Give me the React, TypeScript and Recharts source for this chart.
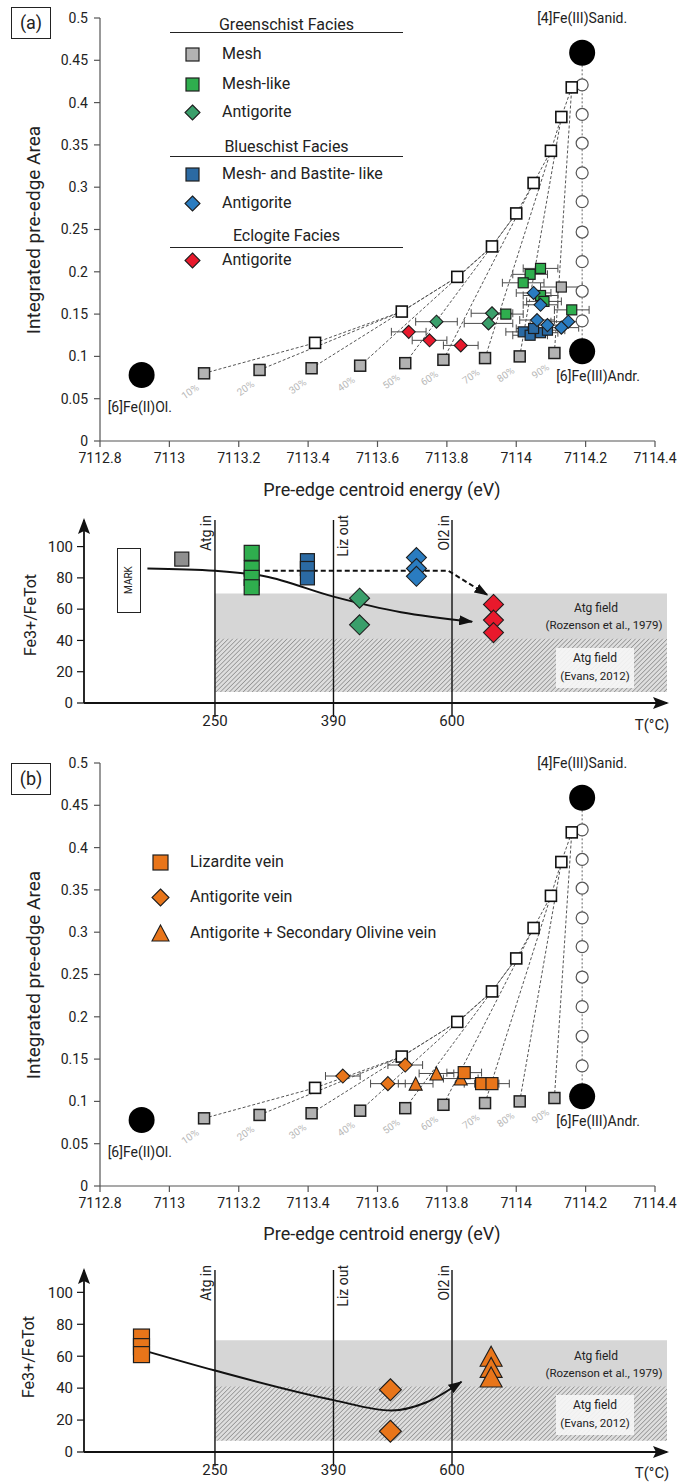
import React from "react";
import {
  ScatterChart,
  Scatter,
  XAxis,
  YAxis,
  ErrorBar,
  ReferenceLine,
  ReferenceArea,
} from "recharts";

const FONT = "Roboto, 'Liberation Sans', sans-serif";

// ---------- pre-edge panels (a) and (b)
const ENERGY_TICKS = [7112.8, 7113, 7113.2, 7113.4, 7113.6, 7113.8, 7114, 7114.2, 7114.4];
const AREA_TICKS = [0, 0.05, 0.1, 0.15, 0.2, 0.25, 0.3, 0.35, 0.4, 0.45, 0.5];

const MIX_PCT = ["10%", "20%", "30%", "40%", "50%", "60%", "70%", "80%", "90%"];
const OL_ANDR_E = [7113.1, 7113.26, 7113.41, 7113.55, 7113.68, 7113.79, 7113.91, 7114.01, 7114.11];
const OL_ANDR_A = [0.08, 0.084, 0.086, 0.089, 0.092, 0.096, 0.098, 0.1, 0.104];
const OL_SANID_E = [7113.42, 7113.67, 7113.83, 7113.93, 7114.0, 7114.05, 7114.1, 7114.13, 7114.16];
const OL_SANID_A = [0.116, 0.153, 0.194, 0.23, 0.269, 0.305, 0.343, 0.383, 0.418];
const ANDR_SANID_E = [7114.19, 7114.19, 7114.19, 7114.19, 7114.19, 7114.19, 7114.19, 7114.19, 7114.19];
const ANDR_SANID_A = [0.142, 0.177, 0.212, 0.247, 0.283, 0.317, 0.352, 0.386, 0.421];

const END_NAMES = ["[6]Fe(II)Ol.", "[6]Fe(III)Andr.", "[4]Fe(III)Sanid."];
const END_E = [7112.92, 7114.19, 7114.19];
const END_A = [0.078, 0.106, 0.459];

// (a) samples
const GS_MESH_E = [7114.13];
const GS_MESH_A = [0.182];
const GS_MESH_ERR = [0.06];
const GS_MESHLIKE_E = [7114.07, 7114.04, 7114.02, 7114.07, 7114.08, 7113.97, 7114.16];
const GS_MESHLIKE_A = [0.204, 0.197, 0.187, 0.172, 0.165, 0.15, 0.155];
const GS_MESHLIKE_ERR = [0.05, 0.05, 0.06, 0.05, 0.05, 0.05, 0.05];
const GS_ATG_E = [7113.77, 7113.93, 7113.92];
const GS_ATG_A = [0.141, 0.151, 0.139];
const GS_ATG_ERR = [0.06, 0.06, 0.07];
const BS_MESH_E = [7114.02, 7114.04, 7114.07, 7114.09, 7114.05];
const BS_MESH_A = [0.129, 0.125, 0.128, 0.131, 0.133];
const BS_MESH_ERR = [0.05, 0.05, 0.05, 0.05, 0.05];
const BS_ATG_E = [7114.05, 7114.07, 7114.06, 7114.15, 7114.13, 7114.09];
const BS_ATG_A = [0.175, 0.161, 0.143, 0.141, 0.134, 0.137];
const BS_ATG_ERR = [0.05, 0.05, 0.05, 0.05, 0.05, 0.05];
const EC_ATG_E = [7113.69, 7113.75, 7113.84];
const EC_ATG_A = [0.129, 0.119, 0.113];
const EC_ATG_ERR = [0.05, 0.05, 0.05];

// (b) samples
const LIZ_VEIN_E = [7113.85, 7113.9, 7113.93];
const LIZ_VEIN_A = [0.134, 0.121, 0.121];
const LIZ_VEIN_ERR = [0.05, 0.05, 0.05];
const ATG_VEIN_E = [7113.5, 7113.68, 7113.63];
const ATG_VEIN_A = [0.13, 0.143, 0.121];
const ATG_VEIN_ERR = [0.05, 0.05, 0.05];
const ATG_OL_VEIN_E = [7113.77, 7113.71, 7113.84];
const ATG_OL_VEIN_A = [0.133, 0.121, 0.127];
const ATG_OL_VEIN_ERR = [0.05, 0.05, 0.05];

// ---------- Fe3+/FeTot strips
const T_TICKS = [1, 2, 3];
const T_LABELS = ["250", "390", "600"];
const ISOGRADS = ["Atg in", "Liz out", "Ol2 in"];
const FE_TICKS = [0, 20, 40, 60, 80, 100];
const STAGE_MIN = -0.105;
const STAGE_MAX = 4.814;

const A_MESH_STAGE = 0.72;
const A_MESH_FE = [92];
const A_MESHLIKE_STAGE = 1.31;
const A_MESHLIKE_FE = [96, 86, 80, 74];
const A_BS_MESH_STAGE = 1.78;
const A_BS_MESH_FE = [91, 86, 80];
const A_GS_ATG_STAGE = 2.22;
const A_GS_ATG_FE = [67, 50];
const A_BS_ATG_STAGE = 2.7;
const A_BS_ATG_FE = [93, 86, 81];
const A_EC_ATG_STAGE = 3.35;
const A_EC_ATG_FE = [63, 53, 45];
const A_TREND_STAGE = [0.43, 1, 1.42, 2, 2.57, 3.17];
const A_TREND_FE = [86, 84.5, 81, 68, 58, 52];
const A_DASH_STAGE = [1.42, 2.97, 3.3];
const A_DASH_FE = [84.5, 84.5, 69];

const B_LIZ_STAGE = 0.38;
const B_LIZ_FE = [72, 66, 61];
const B_ATG_STAGE = 2.48;
const B_ATG_FE = [39, 13];
const B_ATG_OL_STAGE = 3.33;
const B_ATG_OL_FE = [60, 53, 47];
const B_TREND_STAGE = [0.38, 1, 2, 2.49, 2.78, 3.08];
const B_TREND_FE = [64, 51, 32.5, 26, 31, 44];

// ---------- colours
const GREY = "#b2b2b2";
const GREEN_SQ = "#2fae4e";
const GREEN_DIA = "#3a9f6b";
const BLUE_SQ = "#2b6aa3";
const BLUE_DIA = "#2a7cc0";
const RED = "#e8192c";
const ORANGE = "#e8751a";
const INK = "#1e1e1e";

const zip = (xs: number[], ys: number[]) => xs.map((x, i) => ({ x, y: ys[i] }));
const withErr = (xs: number[], ys: number[], errs: number[]) =>
  xs.map((x, i) => ({ x, y: ys[i], err: errs[i] }));
const column = (stage: number, ys: number[]) => ys.map((y) => ({ x: stage, y }));

const none = () => <g />;

function square(s: number, fill: string, stroke = INK, sw = 1.2) {
  return (p: any) => (
    <rect x={p.cx - s / 2} y={p.cy - s / 2} width={s} height={s} fill={fill} stroke={stroke} strokeWidth={sw} />
  );
}
function diamond(r: number, fill: string, stroke = INK, sw = 1.1) {
  return (p: any) => (
    <path
      d={`M${p.cx},${p.cy - r}L${p.cx + r},${p.cy}L${p.cx},${p.cy + r}L${p.cx - r},${p.cy}Z`}
      fill={fill}
      stroke={stroke}
      strokeWidth={sw}
    />
  );
}
function triangle(w: number, h: number, fill: string, stroke = INK, sw = 1.1) {
  return (p: any) => (
    <path
      d={`M${p.cx},${p.cy - h / 2}L${p.cx + w / 2},${p.cy + h / 2}L${p.cx - w / 2},${p.cy + h / 2}Z`}
      fill={fill}
      stroke={stroke}
      strokeWidth={sw}
    />
  );
}
function ring(r: number) {
  return (p: any) => <circle cx={p.cx} cy={p.cy} r={r} fill="#fff" stroke="#555" strokeWidth={1.2} />;
}

const mixSquare = (p: any) => (
  <g>
    <rect x={p.cx - 5.5} y={p.cy - 5.5} width={11} height={11} fill={GREY} stroke={INK} strokeWidth={1.5} />
    <text
      x={p.cx - 12}
      y={p.cy + 21}
      fontSize={10}
      fill="#b8b8b8"
      textAnchor="middle"
      fontFamily={FONT}
      transform={`rotate(-35 ${p.cx - 12} ${p.cy + 21})`}
    >
      {p.payload.label}
    </text>
  </g>
);

const END_LABEL_POS: Record<string, { dx: number; dy: number; anchor: string }> = {
  "[6]Fe(II)Ol.": { dx: -34, dy: 37, anchor: "start" },
  "[6]Fe(III)Andr.": { dx: -26, dy: 30, anchor: "start" },
  "[4]Fe(III)Sanid.": { dx: 0, dy: -30, anchor: "middle" },
};

const endMember = (p: any) => {
  const pos = END_LABEL_POS[p.payload.label];
  return (
    <g>
      <circle cx={p.cx} cy={p.cy} r={13} fill="#000" />
      <text x={p.cx + pos.dx} y={p.cy + pos.dy} fontSize={14} fill="#222" textAnchor={pos.anchor} fontFamily={FONT}>
        {p.payload.label}
      </text>
    </g>
  );
};

const ISO_DX: Record<string, number> = { "Atg in": -4, "Liz out": 15, "Ol2 in": -3 };
const isoLabel = (p: any) => {
  const x = p.cx + ISO_DX[p.payload.label];
  const y = p.cy - 5;
  return (
    <text x={x} y={y} fontSize={14} fill="#222" textAnchor="end" fontFamily={FONT} transform={`rotate(-90 ${x} ${y})`}>
      {p.payload.label}
    </text>
  );
};

const tickStyle = { fontSize: 14, fill: "#222", fontFamily: FONT };
const axisStyle = { stroke: "#555", strokeWidth: 1.2 };

function errScatter(key: string, data: any[], shape: any) {
  return (
    <Scatter key={key} data={data} shape={shape} isAnimationActive={false}>
      <ErrorBar dataKey="err" direction="x" width={4} stroke="#4a4a4a" strokeWidth={1} />
    </Scatter>
  );
}

function EnergyChart({ samples }: { samples: React.ReactElement[] }) {
  const mixLines = OL_ANDR_E.map((e, i) => (
    <Scatter
      key={`mix${i}`}
      data={[
        { x: e, y: OL_ANDR_A[i] },
        { x: OL_SANID_E[i], y: OL_SANID_A[i] },
      ]}
      line={{ stroke: "#555", strokeWidth: 1, strokeDasharray: "3 2" }}
      shape={none}
      isAnimationActive={false}
    />
  ));
  const columnLine = [
    { x: END_E[1], y: END_A[1] },
    ...zip(ANDR_SANID_E, ANDR_SANID_A),
    { x: END_E[2], y: END_A[2] },
  ];
  const greys = OL_ANDR_E.map((x, i) => ({ x, y: OL_ANDR_A[i], label: MIX_PCT[i] }));
  const ends = END_E.map((x, i) => ({ x, y: END_A[i], label: END_NAMES[i] }));
  return (
    <ScatterChart width={693} height={500} margin={{ top: 18, right: 38, left: 40, bottom: 29 }}>
      <XAxis
        type="number"
        dataKey="x"
        domain={[7112.8, 7114.4]}
        ticks={ENERGY_TICKS}
        interval={0}
        tickFormatter={(v) => String(v)}
        height={30}
        tickSize={6}
        tickMargin={6}
        tick={tickStyle}
        axisLine={axisStyle}
        tickLine={axisStyle}
      />
      <YAxis
        type="number"
        dataKey="y"
        domain={[0, 0.5]}
        ticks={AREA_TICKS}
        interval={0}
        tickFormatter={(v) => String(v)}
        width={60}
        tickSize={6}
        tickMargin={6}
        tick={tickStyle}
        axisLine={axisStyle}
        tickLine={axisStyle}
      />
      {mixLines}
      <Scatter
        data={zip(OL_SANID_E, OL_SANID_A)}
        line={{ stroke: "#555", strokeWidth: 1, strokeDasharray: "3 2" }}
        shape={none}
        isAnimationActive={false}
      />
      <Scatter
        data={columnLine}
        line={{ stroke: "#666", strokeWidth: 1, strokeDasharray: "2 2" }}
        shape={none}
        isAnimationActive={false}
      />
      <Scatter data={zip(ANDR_SANID_E, ANDR_SANID_A)} shape={ring(6)} isAnimationActive={false} />
      <Scatter data={zip(OL_SANID_E, OL_SANID_A)} shape={square(11, "#fff", "#111", 1.6)} isAnimationActive={false} />
      <Scatter data={greys} shape={mixSquare} isAnimationActive={false} />
      <Scatter data={ends} shape={endMember} isAnimationActive={false} />
      {samples}
    </ScatterChart>
  );
}

function FeChart({
  id,
  height,
  bottom,
  yMax,
  series,
}: {
  id: string;
  height: number;
  bottom: number;
  yMax: number;
  series: React.ReactElement[];
}) {
  const labels = T_TICKS.map((t, i) => ({ x: t, y: yMax, label: ISOGRADS[i] }));
  return (
    <ScatterChart width={693} height={height} margin={{ top: 20, right: 26, left: 34, bottom }}>
      <defs>
        <pattern id={`hatch-${id}`} width="3.2" height="3.2" patternUnits="userSpaceOnUse" patternTransform="rotate(45)">
          <rect width="3.2" height="3.2" fill="#dedede" />
          <line x1="0" y1="0" x2="0" y2="3.2" stroke="#7a7a7a" strokeWidth="1.2" />
        </pattern>
        <marker id={`trend-${id}`} markerWidth="14" markerHeight="10" refX="13" refY="5" orient="auto" markerUnits="userSpaceOnUse">
          <path d="M0,0L14,5L0,10Z" fill="#111" />
        </marker>
        <marker id={`axr-${id}`} markerWidth="16" markerHeight="12" refX="14" refY="6" orient="auto" markerUnits="userSpaceOnUse">
          <path d="M0,0L16,6L0,12L3,6Z" fill="#111" />
        </marker>
        <marker id={`axu-${id}`} markerWidth="16" markerHeight="12" refX="14" refY="6" orient="auto-start-reverse" markerUnits="userSpaceOnUse">
          <path d="M0,0L16,6L0,12L3,6Z" fill="#111" />
        </marker>
      </defs>
      <XAxis
        type="number"
        dataKey="x"
        domain={[STAGE_MIN, STAGE_MAX]}
        ticks={T_TICKS}
        interval={0}
        tickFormatter={(v) => T_LABELS[T_TICKS.indexOf(v)] ?? ""}
        height={25}
        tickLine={false}
        tickSize={8}
        tickMargin={4}
        tick={{ ...tickStyle, fontSize: 15 }}
        axisLine={{ stroke: "#111", strokeWidth: 1.8, markerEnd: `url(#axr-${id})` }}
      />
      <YAxis
        type="number"
        dataKey="y"
        domain={[0, yMax]}
        ticks={FE_TICKS}
        interval={0}
        width={50}
        tickSize={7}
        tickMargin={4}
        tick={{ ...tickStyle, fontSize: 15 }}
        tickLine={{ stroke: "#111", strokeWidth: 1.2 }}
        axisLine={{ stroke: "#111", strokeWidth: 1.8, markerStart: `url(#axu-${id})` }}
      />
      <ReferenceArea x1={1} x2={STAGE_MAX} y1={40} y2={70} fill="#d6d6d6" fillOpacity={1} stroke="none" ifOverflow="visible" />
      <ReferenceArea x1={1} x2={STAGE_MAX} y1={7} y2={41} fill={`url(#hatch-${id})`} fillOpacity={1} stroke="none" ifOverflow="visible" />
      {T_TICKS.map((t) => (
        <ReferenceLine
          key={`iso${t}`}
          segment={[
            { x: t, y: -9 },
            { x: t, y: yMax },
          ]}
          stroke="#111"
          strokeWidth={1.4}
          ifOverflow="visible"
        />
      ))}
      <Scatter data={labels} shape={isoLabel} isAnimationActive={false} />
      {series}
    </ScatterChart>
  );
}

const trendLine = (id: string, dashed: boolean) => ({
  stroke: "#111",
  strokeWidth: 2,
  strokeDasharray: dashed ? "5 3" : undefined,
  markerEnd: `url(#trend-${id})`,
});

const samplesA = [
  errScatter("gsm", withErr(GS_MESH_E, GS_MESH_A, GS_MESH_ERR), square(10, GREY)),
  errScatter("gsl", withErr(GS_MESHLIKE_E, GS_MESHLIKE_A, GS_MESHLIKE_ERR), square(10, GREEN_SQ)),
  errScatter("gsa", withErr(GS_ATG_E, GS_ATG_A, GS_ATG_ERR), diamond(6.5, GREEN_DIA)),
  errScatter("bsm", withErr(BS_MESH_E, BS_MESH_A, BS_MESH_ERR), square(10, BLUE_SQ)),
  errScatter("bsa", withErr(BS_ATG_E, BS_ATG_A, BS_ATG_ERR), diamond(6.5, BLUE_DIA)),
  errScatter("eca", withErr(EC_ATG_E, EC_ATG_A, EC_ATG_ERR), diamond(6.5, RED)),
];

const samplesB = [
  errScatter("atv", withErr(ATG_VEIN_E, ATG_VEIN_A, ATG_VEIN_ERR), diamond(7, ORANGE)),
  errScatter("aov", withErr(ATG_OL_VEIN_E, ATG_OL_VEIN_A, ATG_OL_VEIN_ERR), triangle(13, 13, ORANGE)),
  errScatter("lzv", withErr(LIZ_VEIN_E, LIZ_VEIN_A, LIZ_VEIN_ERR), square(12, ORANGE)),
];

const stripA = [
  <Scatter
    key="trendA"
    data={zip(A_TREND_STAGE, A_TREND_FE)}
    line={trendLine("a", false)}
    lineJointType="monotoneX"
    shape={none}
    isAnimationActive={false}
  />,
  <Scatter
    key="dashA"
    data={zip(A_DASH_STAGE, A_DASH_FE)}
    line={trendLine("a", true)}
    shape={none}
    isAnimationActive={false}
  />,
  <Scatter key="m" data={column(A_MESH_STAGE, A_MESH_FE)} shape={square(14, "#8f8f8f")} isAnimationActive={false} />,
  <Scatter key="ml" data={column(A_MESHLIKE_STAGE, A_MESHLIKE_FE)} shape={square(15, GREEN_SQ)} isAnimationActive={false} />,
  <Scatter key="bm" data={column(A_BS_MESH_STAGE, A_BS_MESH_FE)} shape={square(14, BLUE_SQ)} isAnimationActive={false} />,
  <Scatter key="ga" data={column(A_GS_ATG_STAGE, A_GS_ATG_FE)} shape={diamond(10, GREEN_DIA)} isAnimationActive={false} />,
  <Scatter key="ba" data={column(A_BS_ATG_STAGE, A_BS_ATG_FE)} shape={diamond(10, BLUE_DIA)} isAnimationActive={false} />,
  <Scatter key="ea" data={column(A_EC_ATG_STAGE, A_EC_ATG_FE)} shape={diamond(10, RED)} isAnimationActive={false} />,
];

const stripB = [
  <Scatter
    key="trendB"
    data={zip(B_TREND_STAGE, B_TREND_FE)}
    line={trendLine("b", false)}
    lineJointType="monotoneX"
    shape={none}
    isAnimationActive={false}
  />,
  <Scatter key="lz" data={column(B_LIZ_STAGE, B_LIZ_FE)} shape={square(16, ORANGE)} isAnimationActive={false} />,
  <Scatter key="av" data={column(B_ATG_STAGE, B_ATG_FE)} shape={diamond(11, ORANGE)} isAnimationActive={false} />,
  <Scatter key="ao" data={column(B_ATG_OL_STAGE, B_ATG_OL_FE)} shape={triangle(22, 20, ORANGE)} isAnimationActive={false} />,
];

// ---------- html overlays
function Icon({ kind, color, size = 13 }: { kind: string; color: string; size?: number }) {
  const b = size + 6;
  const c = b / 2;
  const h = size / 2;
  return (
    <svg width={b} height={b} style={{ position: "absolute", left: -c, top: -c }}>
      {kind === "square" && <rect x={c - h} y={c - h} width={size} height={size} fill={color} stroke={INK} strokeWidth={1.2} />}
      {kind === "diamond" && (
        <path d={`M${c},${c - h - 1}L${c + h + 1},${c}L${c},${c + h + 1}L${c - h - 1},${c}Z`} fill={color} stroke={INK} strokeWidth={1.1} />
      )}
      {kind === "triangle" && (
        <path d={`M${c},${c - h - 1}L${c + h + 1},${c + h}L${c - h - 1},${c + h}Z`} fill={color} stroke={INK} strokeWidth={1.1} />
      )}
    </svg>
  );
}

function Item({ x, y, tx, text, kind, color, size, fs = 16 }: any) {
  return (
    <>
      <div style={{ position: "absolute", left: x, top: y }}>
        <Icon kind={kind} color={color} size={size} />
      </div>
      <div style={{ position: "absolute", left: tx, top: y - fs * 0.62, fontSize: fs, whiteSpace: "nowrap" }}>{text}</div>
    </>
  );
}

function Head({ y, line, text }: { y: number; line: number; text: string }) {
  return (
    <>
      <div style={{ position: "absolute", left: 170, width: 233, top: y - 10, fontSize: 16, textAlign: "center", whiteSpace: "nowrap" }}>
        {text}
      </div>
      <div style={{ position: "absolute", left: 170, width: 233, top: line, height: 0, borderTop: "1.6px solid #222" }} />
    </>
  );
}

function Txt({ x, y, text, fs }: any) {
  return (
    <div
      style={{
        position: "absolute",
        left: x,
        top: y,
        fontSize: fs,
        whiteSpace: "nowrap",
        lineHeight: 1,
        transform: "translate(-50%, -50%)",
      }}
    >
      {text}
    </div>
  );
}

function RotTxt({ x, y, text, fs }: any) {
  return (
    <div
      style={{
        position: "absolute",
        left: x,
        top: y,
        fontSize: fs,
        whiteSpace: "nowrap",
        lineHeight: 1,
        transform: "translate(-50%, -50%) rotate(-90deg)",
      }}
    >
      {text}
    </div>
  );
}

function PanelTag({ y, text }: { y: number; text: string }) {
  return (
    <div
      style={{
        position: "absolute",
        left: 11,
        top: y,
        width: 40,
        height: 32,
        boxSizing: "border-box",
        border: "1.5px solid #222",
        fontSize: 18,
        lineHeight: "29px",
        textAlign: "center",
      }}
    >
      {text}
    </div>
  );
}

function FieldLabels({ top1, top2 }: { top1: number; top2: number }) {
  return (
    <>
      <Txt x={596} y={top1} text="Atg field" fs={12} />
      <Txt x={604} y={top1 + 18} text="(Rozenson et al., 1979)" fs={11.5} />
      <div style={{ position: "absolute", left: 556, top: top2 - 10, width: 78, height: 40, background: "rgba(245,245,245,0.92)" }} />
      <Txt x={595} y={top2} text="Atg field" fs={12} />
      <Txt x={595} y={top2 + 19} text="(Evans, 2012)" fs={11.5} />
    </>
  );
}

export default function App() {
  return (
    <div
      style={{
        position: "absolute",
        left: 0,
        top: 0,
        width: 693,
        height: 1482,
        background: "#fff",
        fontFamily: FONT,
        color: "#222",
        overflow: "hidden",
      }}
    >
      <div style={{ position: "absolute", left: 0, top: 0 }}>
        <EnergyChart samples={samplesA} />
      </div>
      <div style={{ position: "absolute", left: 0, top: 500 }}>
        <FeChart id="a" height={240} bottom={12} yMax={117} series={stripA} />
      </div>
      <div style={{ position: "absolute", left: 0, top: 745 }}>
        <EnergyChart samples={samplesB} />
      </div>
      <div style={{ position: "absolute", left: 0, top: 1250 }}>
        <FeChart id="b" height={232} bottom={5} yMax={114} series={stripB} />
      </div>

      {/* panel (a) */}
      <PanelTag y={7} text="(a)" />
      <RotTxt x={33} y={230} text="Integrated pre-edge Area" fs={19} />
      <Txt x={382} y={490} text="Pre-edge centroid energy (eV)" fs={18} />
      <Head y={25} line={32} text="Greenschist Facies" />
      <Item x={192} y={54} tx={222} text="Mesh" kind="square" color={GREY} />
      <Item x={192} y={84} tx={222} text="Mesh-like" kind="square" color={GREEN_SQ} />
      <Item x={192} y={112} tx={222} text="Antigorite" kind="diamond" color={GREEN_DIA} />
      <Head y={147} line={156} text="Blueschist Facies" />
      <Item x={192} y={174} tx={222} text="Mesh- and Bastite- like" kind="square" color={BLUE_SQ} />
      <Item x={192} y={203} tx={222} text="Antigorite" kind="diamond" color={BLUE_DIA} />
      <Head y={236} line={247} text="Eclogite Facies" />
      <Item x={192} y={260} tx={222} text="Antigorite" kind="diamond" color={RED} />

      {/* strip (a) */}
      <RotTxt x={31} y={615} text="Fe3+/FeTot" fs={16} />
      <div
        style={{
          position: "absolute",
          left: 117,
          top: 548,
          width: 24,
          height: 65,
          boxSizing: "border-box",
          border: "1.5px solid #222",
          background: "#fff",
        }}
      />
      <RotTxt x={129} y={580} text="MARK" fs={10} />
      <FieldLabels top1={608} top2={658} />
      <Txt x={652} y={725} text="T(°C)" fs={15} />

      {/* panel (b) */}
      <PanelTag y={763} text="(b)" />
      <RotTxt x={33} y={975} text="Integrated pre-edge Area" fs={19} />
      <Txt x={382} y={1234} text="Pre-edge centroid energy (eV)" fs={18} />
      <Item x={160} y={862} tx={190} text="Lizardite vein" kind="square" color={ORANGE} size={15} />
      <Item x={160} y={897} tx={190} text="Antigorite vein" kind="diamond" color={ORANGE} size={15} />
      <Item x={160} y={933} tx={190} text="Antigorite + Secondary Olivine vein" kind="triangle" color={ORANGE} size={15} />

      {/* strip (b) */}
      <RotTxt x={29} y={1357} text="Fe3+/FeTot" fs={16} />
      <FieldLabels top1={1356} top2={1405} />
      <Txt x={652} y={1473} text="T(°C)" fs={15} />
    </div>
  );
}
